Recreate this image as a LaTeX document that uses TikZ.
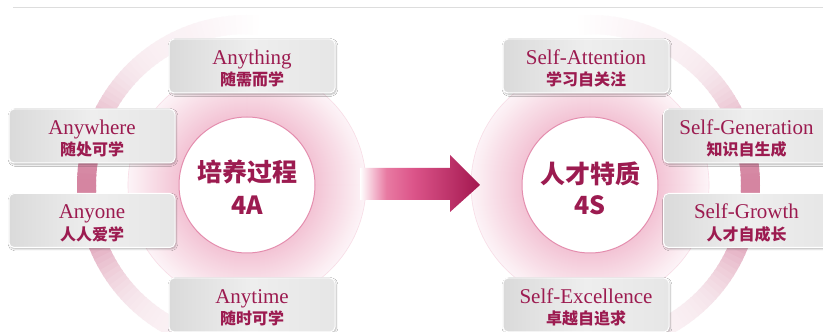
\documentclass[tikz,border=0pt]{standalone}
\usepackage{fontspec}
\setmainfont{Liberation Serif}
\newfontfamily\cjk{Noto Sans CJK SC}
\usetikzlibrary{shadows.blur}
\definecolor{txt}{HTML}{9C1B50}
\definecolor{ringc}{HTML}{D4829F}
\definecolor{diskc}{HTML}{EFB2C8}
\definecolor{edgec}{HTML}{E48DAE}
\definecolor{boxL}{HTML}{DADADA}
\definecolor{boxM}{HTML}{EEEEEE}
\definecolor{boxR}{HTML}{E6E6E6}
\definecolor{arA}{HTML}{E87AA2}
\definecolor{arB}{HTML}{DC558A}
\definecolor{arC}{HTML}{A3174F}
\definecolor{topline}{HTML}{DDDDDD}
\pgfdeclarehorizontalshading{arrowsh}{100bp}{color(0bp)=(white); color(25bp)=(white); color(36bp)=(arA); color(47bp)=(arB); color(75bp)=(arC); color(100bp)=(arC)}
\newcommand\mkbox[5]{%
  \node[boxst] (#1) at (#2,#3) {};
  \node[entext, anchor=base] (#1-en) at ([yshift=-26pt]#1.north) {#4};
  \node[cntext] (#1-cn) at ([yshift=-41pt]#1.north) {#5};
}
\newcommand\mkring[2]{% #1 centre x, #2 direction (+1 left, -1 right)
  \foreach \d in {-94,-92,...,94}{%
    \pgfmathsetmacro\p{(10+88*exp(-(\d/30)*(\d/30)))*min(1,max(0,(\d+96)/26))}%
    \pgfmathsetmacro\a{90+#2*(90+\d)}%
    \pgfmathsetmacro\b{\a+#2*2.6}%
    \draw[line width=19pt, ringc!\p!white] (#1,147) ++(\a:160.5) arc[start angle=\a, end angle=\b, radius=160.5];
  }%
}
\newcommand\mkdisk[1]{%
  \foreach \r in {119,118,...,69}{%
    \pgfmathsetmacro\q{14+62*(119-\r)/50}%
    \fill[diskc!\q!white] (#1,147) circle[radius=\r];
  }%
  \draw[diskc!45!white, line width=0.6pt] (#1,147) circle[radius=119];
}
\begin{document}
\begin{tikzpicture}[x=1pt,y=1pt,
  boxst/.style={rounded corners=5pt, minimum width=166pt, minimum height=54pt,
    left color=boxL, right color=boxR, middle color=boxM, draw=white, line width=1pt,
    blur shadow={shadow xshift=1pt, shadow yshift=-1.5pt, shadow blur steps=6, shadow opacity=30},
    inner sep=0pt},
  entext/.style={font=\fontsize{21}{21}\selectfont, text=txt, inner sep=0pt},
  cntext/.style={font=\cjk\bfseries\fontsize{16}{16}\selectfont, text=txt, inner sep=0pt},
  ctr/.style={font=\cjk\bfseries\fontsize{25}{25}\selectfont, text=txt, inner sep=0pt},
  core/.style={circle, fill=white, draw=edgec, line width=1pt, minimum size=136pt, inner sep=0pt}]
\clip (0,0) rectangle (823,332);
\fill[white] (0,0) rectangle (823,332);
\draw[topline, line width=1pt] (13,324) -- (823,324);
% rings
\mkring{247}{1}
\mkring{590}{-1}
% disks
\mkdisk{247}
\mkdisk{590}
% cores
\node[core] (lc) at (247,147) {};
\node[core] (rc) at (590,147) {};
\node[ctr] (lt1) at (247,160) {培养过程};
\node[ctr] (lt2) at (247,127) {4A};
\node[ctr] (rt1) at (590,158) {人才特质};
\node[ctr] (rt2) at (590,127) {4S};
% arrow
\shade[shading=arrowsh] (360,164) -- (450,164) -- (450,177) -- (480,147) -- (450,120) -- (450,132) -- (360,132) -- cycle;
% boxes
\mkbox{b1}{252}{266}{Anything}{随需而学}
\mkbox{b2}{92}{196}{Anywhere}{随处可学}
\mkbox{b3}{92}{111.5}{Anyone}{人人爱学}
\mkbox{b4}{252}{27}{Anytime}{随时可学}
\mkbox{s1}{586}{266}{Self-Attention}{学习自关注}
\mkbox{s2}{746.5}{196}{Self-Generation}{知识自生成}
\mkbox{s3}{746.5}{111.5}{Self-Growth}{人才自成长}
\mkbox{s4}{586}{27}{Self-Excellence}{卓越自追求}
\end{tikzpicture}
\end{document}
